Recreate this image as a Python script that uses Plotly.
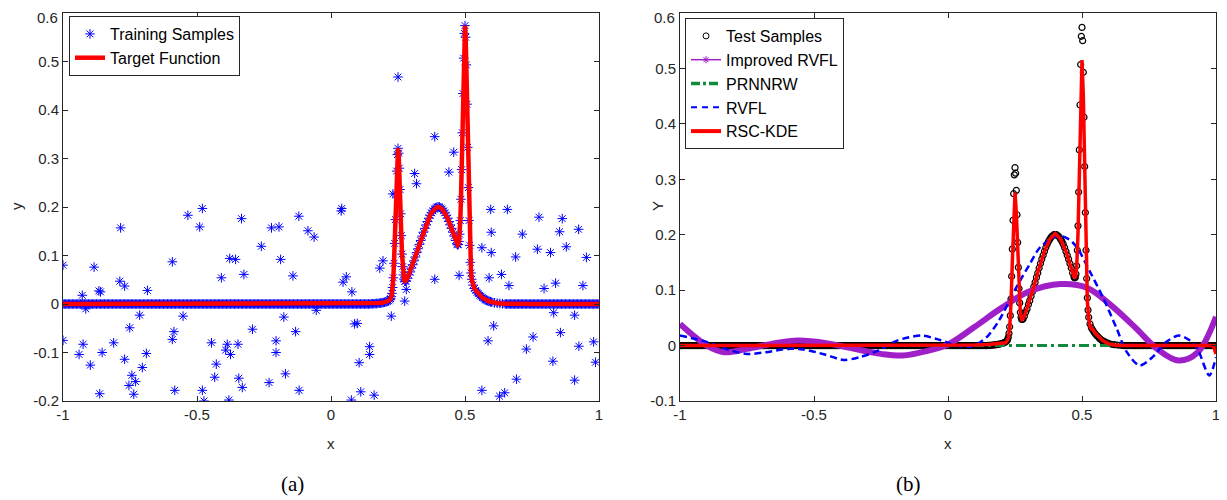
import numpy as np
import plotly.graph_objects as go

# ---------------- data ----------------
# target function, feature region (x, y); flat (y = 0) outside 0.15..0.65
feat_x = [0.15, 0.155, 0.16, 0.165, 0.17, 0.175, 0.18, 0.185, 0.19, 0.195,
          0.2, 0.205, 0.21, 0.215, 0.22, 0.2225, 0.225, 0.2275, 0.23, 0.2325,
          0.235, 0.2375, 0.24, 0.2425, 0.245, 0.2475, 0.25, 0.2525, 0.255, 0.2575,
          0.26, 0.2625, 0.265, 0.2675, 0.27, 0.2725, 0.275, 0.2775, 0.28, 0.285,
          0.29, 0.295, 0.3, 0.305, 0.31, 0.315, 0.32, 0.325, 0.33, 0.335,
          0.34, 0.345, 0.35, 0.355, 0.36, 0.365, 0.37, 0.375, 0.38, 0.385,
          0.39, 0.395, 0.4, 0.405, 0.41, 0.415, 0.42, 0.425, 0.43, 0.435,
          0.44, 0.445, 0.45, 0.455, 0.46, 0.465, 0.47, 0.4725, 0.475, 0.4775,
          0.48, 0.4825, 0.485, 0.4875, 0.49, 0.4925, 0.495, 0.4975, 0.5, 0.5025,
          0.505, 0.5075, 0.51, 0.5125, 0.515, 0.5175, 0.52, 0.5225, 0.525, 0.53,
          0.535, 0.54, 0.545, 0.55, 0.555, 0.56, 0.565, 0.57, 0.575, 0.58,
          0.585, 0.59, 0.595, 0.6, 0.61, 0.62, 0.63, 0.64, 0.65]
feat_y = [0.0004, 0.0005, 0.0006, 0.0008, 0.001, 0.0013, 0.0016, 0.002, 0.0024, 0.003,
          0.0037, 0.0045, 0.0054, 0.0066, 0.0088, 0.011, 0.015, 0.022, 0.034, 0.054,
          0.084, 0.125, 0.174, 0.226, 0.274, 0.308, 0.321, 0.311, 0.280, 0.236,
          0.186, 0.141, 0.103, 0.077, 0.060, 0.051, 0.047, 0.047, 0.048, 0.053,
          0.060, 0.066, 0.074, 0.081, 0.089, 0.097, 0.106, 0.114, 0.123, 0.131,
          0.140, 0.148, 0.156, 0.163, 0.170, 0.177, 0.183, 0.188, 0.192, 0.196,
          0.198, 0.200, 0.200, 0.200, 0.198, 0.196, 0.192, 0.188, 0.183, 0.177,
          0.170, 0.163, 0.156, 0.148, 0.140, 0.131, 0.124, 0.122, 0.123, 0.129,
          0.144, 0.172, 0.216, 0.277, 0.353, 0.434, 0.507, 0.558, 0.574, 0.550,
          0.493, 0.412, 0.323, 0.240, 0.172, 0.121, 0.086, 0.064, 0.051, 0.039,
          0.032, 0.028, 0.024, 0.021, 0.018, 0.016, 0.013, 0.011, 0.009, 0.008,
          0.0065, 0.0054, 0.0045, 0.0037, 0.0024, 0.0016, 0.001, 0.0006, 0.0004]
assert len(feat_x) == len(feat_y)

flat_left_x = np.round(np.arange(-1.0, 0.1475, 0.005), 3)
flat_right_x = np.round(np.arange(0.655, 1.0001, 0.005), 3)
target_x = list(flat_left_x) + feat_x + list(flat_right_x)
target_y = [0.0] * len(flat_left_x) + feat_y + [0.0] * len(flat_right_x)

# noisy training samples (off the curve)
noise_x = [-1.0, -0.884, -0.785, -0.928, -0.866, -0.86, -0.788, -0.77, -0.685, -0.915,
           -0.714, -0.751, -1.0, -0.925, -0.811, -0.94, -0.854, -0.689, -0.77, -0.898,
           -0.704, -0.743, -0.729, -0.754, -0.863, -0.736,
           -0.534, -0.48, -0.49, -0.334, -0.222, -0.26, -0.592, -0.378, -0.356, -0.409,
           -0.325, -0.552, -0.293, -0.586, -0.592, -0.446, -0.387, -0.347, -0.393, -0.375,
           -0.428, -0.434, -0.344, -0.331, -0.231, -0.583, -0.48, -0.474, -0.381, -0.205,
           -0.205,
           -0.194, -0.12, -0.086, -0.063, 0.04, 0.038, -0.188, -0.142, 0.057, 0.045,
           0.078, 0.194, 0.182, -0.055, -0.176, -0.132, 0.088, 0.098, 0.144, 0.144,
           0.105, -0.17, -0.119, 0.111, 0.161, 0.076,
           0.25, 0.387, 0.458, 0.312, 0.319, 0.44, 0.231, 0.596, 0.598, 0.563,
           0.598, 0.387, 0.478, 0.59, 0.281, 0.275, 0.225, 0.607, 0.586, 0.563,
           0.658, 0.776, 0.863, 0.714, 0.853, 0.924, 0.689, 0.77, 0.819, 0.878,
           0.953, 0.636, 0.664, 0.795, 0.838, 0.94, 0.831, 0.909, 0.754, 0.856,
           0.729, 0.925, 0.98, 0.828, 0.987, 0.692, 0.909, 0.629, 0.648]
noise_y = [0.08, 0.076, 0.157, 0.018, 0.027, 0.025, 0.047, 0.037, 0.028, -0.01,
           -0.023, -0.049, -0.075, -0.083, -0.08, -0.104, -0.1, -0.102, -0.114, -0.126,
           -0.131, -0.147, -0.16, -0.168, -0.185, -0.186,
           0.183, 0.197, 0.159, 0.176, 0.157, 0.119, 0.087, 0.094, 0.092, 0.054,
           0.061, -0.025, -0.052, -0.057, -0.073, -0.08, -0.083, -0.083, -0.095, -0.104,
           -0.124, -0.151, -0.153, -0.172, -0.162, -0.178, -0.178, -0.2, -0.198, -0.076,
           -0.1,
           0.159, 0.181, 0.151, 0.138, 0.197, 0.192, 0.092, 0.058, 0.056, 0.045,
           0.025, 0.089, 0.074, -0.013, -0.027, -0.057, -0.041, -0.04, -0.088, -0.104,
           -0.121, -0.144, -0.178, -0.181, -0.188, -0.198,
           0.468, 0.345, 0.313, 0.269, 0.248, 0.272, 0.227, 0.195, 0.148, 0.116,
           0.106, 0.051, 0.059, 0.054, 0.03, 0.006, -0.025, -0.045, -0.076, -0.178,
           0.195, 0.179, 0.176, 0.144, 0.149, 0.154, 0.097, 0.113, 0.106, 0.118,
           0.096, 0.061, 0.038, 0.032, 0.043, 0.038, -0.018, -0.023, -0.068, -0.059,
           -0.093, -0.087, -0.078, -0.118, -0.12, -0.155, -0.157, -0.19, -0.183]
assert len(noise_x) == len(noise_y)

# Improved RVFL (purple)
irvfl_x = [-1.0, -0.95, -0.9, -0.835, -0.75, -0.65, -0.56, -0.45, -0.35, -0.25,
           -0.17, -0.08, 0.0, 0.1, 0.2, 0.3, 0.42, 0.52, 0.6, 0.7,
           0.78, 0.86, 0.93, 1.0]
irvfl_y = [0.039, 0.018, 0.0, -0.012, -0.006, 0.004, 0.009, 0.004, -0.006, -0.015,
           -0.018, -0.010, 0.002, 0.034, 0.068, 0.097, 0.111, 0.104, 0.076, 0.032,
           -0.006, -0.027, -0.013, 0.052]

# PRNNRW (green)
prnn_x = [-1.0, 1.0]
prnn_y = [0.0, 0.0]

# RVFL (blue dashed)
rvfl_x = [-1.0, -0.91, -0.83, -0.75, -0.68, -0.6, -0.54, -0.46, -0.39, -0.33,
          -0.27, -0.19, -0.1, -0.03, 0.03, 0.08, 0.12, 0.15, 0.19, 0.255,
          0.305, 0.345, 0.41, 0.45, 0.48, 0.53, 0.58, 0.63, 0.665, 0.715,
          0.765, 0.81, 0.86, 0.9, 0.93, 0.975, 1.0]
rvfl_y = [0.018, 0.008, -0.006, -0.015, -0.012, -0.006, -0.007, -0.016, -0.026, -0.021,
          -0.011, 0.009, 0.018, 0.01, 0.0, -0.002, 0.006, 0.018, 0.045, 0.105,
          0.147, 0.178, 0.198, 0.192, 0.178, 0.133, 0.085, 0.03, -0.01, -0.036,
          -0.02, 0.005, 0.018, 0.01, -0.005, -0.054, -0.021]

# RSC-KDE (red)
rsc_x = [-1.0, -0.5, 0.0, 0.1, 0.15, 0.2, 0.21, 0.215, 0.22, 0.225,
         0.23, 0.235, 0.24, 0.245, 0.25, 0.255, 0.26, 0.265, 0.27, 0.275,
         0.28, 0.29, 0.3, 0.32, 0.34, 0.36, 0.38, 0.4, 0.42, 0.44,
         0.46, 0.47, 0.475, 0.48, 0.485, 0.49, 0.495, 0.5, 0.505, 0.51,
         0.515, 0.52, 0.525, 0.53, 0.535, 0.54, 0.55, 0.56, 0.58, 0.6,
         0.62, 0.65, 0.7, 0.99, 1.0]
rsc_y = [0.0, 0.0, 0.0, 0.001, 0.002, 0.004, 0.004, 0.005, 0.008, 0.014,
         0.03, 0.075, 0.15, 0.235, 0.276, 0.24, 0.165, 0.095, 0.058, 0.047,
         0.048, 0.06, 0.074, 0.106, 0.14, 0.17, 0.192, 0.202, 0.192, 0.17,
         0.14, 0.124, 0.122, 0.14, 0.2, 0.33, 0.46, 0.515, 0.45, 0.3,
         0.16, 0.08, 0.05, 0.034, 0.03, 0.03, 0.022, 0.017, 0.008, 0.003,
         0.001, 0.0, 0.0, 0.0, -0.015]

x_ticks = [-1, -0.5, 0, 0.5, 1]
x_ticktext = ['-1', '-0.5', '0', '0.5', '1']
ya_ticks = [-0.2, -0.1, 0, 0.1, 0.2, 0.3, 0.4, 0.5, 0.6]
ya_ticktext = ['-0.2', '-0.1', '0', '0.1', '0.2', '0.3', '0.4', '0.5', '0.6']
yb_ticks = ya_ticks[1:]
yb_ticktext = ya_ticktext[1:]

# ---------------- figure ----------------
# the page body has an 8px margin, so the figure is 8px smaller and all
# reference pixel positions are shifted by that offset
OFF = 8
W, H = 1227 - OFF, 500 - OFF


def px(x):
    return (x - OFF) / W


def py(y):
    return 1 - (y - OFF) / H


FONT = 'Liberation Sans, Arial, Helvetica, sans-serif'
AX = '#262626'
BLUE = '#0000ff'
RED = '#ff0000'
PURPLE = '#a020c8'
GREEN = '#128a3c'

fig = go.Figure()

# panel (a)
fig.add_trace(go.Scatter(x=noise_x, y=noise_y, mode='markers', showlegend=False,
                         marker=dict(symbol='asterisk-open', size=8, color=BLUE,
                                     line=dict(color=BLUE, width=1)),
                         xaxis='x', yaxis='y'))
fig.add_trace(go.Scatter(x=target_x, y=target_y, mode='markers', name='Training Samples',
                         marker=dict(symbol='asterisk-open', size=8, color=BLUE,
                                     line=dict(color=BLUE, width=1)),
                         xaxis='x', yaxis='y', legend='legend'))
fig.add_trace(go.Scatter(x=target_x, y=target_y, mode='lines', name='Target Function',
                         line=dict(color=RED, width=4.5),
                         xaxis='x', yaxis='y', legend='legend'))

# panel (b)
fig.add_trace(go.Scatter(x=target_x, y=target_y, mode='markers', showlegend=False,
                         marker=dict(symbol='circle-open', size=6, color='black',
                                     line=dict(color='black', width=1.2)),
                         xaxis='x2', yaxis='y2'))
fig.add_trace(go.Scatter(x=irvfl_x, y=irvfl_y, mode='lines', showlegend=False,
                         line=dict(color=PURPLE, width=6, shape='spline', smoothing=1.0),
                         xaxis='x2', yaxis='y2'))
fig.add_trace(go.Scatter(x=prnn_x, y=prnn_y, mode='lines', showlegend=False,
                         line=dict(color=GREEN, width=3, dash='10px,4px,3px,4px'),
                         xaxis='x2', yaxis='y2'))
fig.add_trace(go.Scatter(x=rvfl_x, y=rvfl_y, mode='lines', showlegend=False,
                         line=dict(color=BLUE, width=2.5, dash='7px,4px', shape='spline',
                                   smoothing=0.8),
                         xaxis='x2', yaxis='y2'))
fig.add_trace(go.Scatter(x=rsc_x, y=rsc_y, mode='lines', showlegend=False,
                         line=dict(color=RED, width=3.5),
                         xaxis='x2', yaxis='y2'))

# legend entries for panel (b)
leg_b = [
    dict(name='Test Samples', mode='markers',
         marker=dict(symbol='circle-open', size=6, color='black', line=dict(color='black', width=1))),
    dict(name='Improved RVFL', mode='lines+markers', line=dict(color=PURPLE, width=1.5),
         marker=dict(symbol='asterisk-open', size=6, color=PURPLE, line=dict(color=PURPLE, width=1))),
    dict(name='PRNNRW', mode='lines', line=dict(color=GREEN, width=3.5, dash='9px,3px,3px,3px')),
    dict(name='RVFL', mode='lines', line=dict(color=BLUE, width=2, dash='6px,5px')),
    dict(name='RSC-KDE', mode='lines', line=dict(color=RED, width=4)),
]
for item in leg_b:
    fig.add_trace(go.Scatter(x=[None], y=[None], xaxis='x2', yaxis='y2',
                             legend='legend2', **item))

axis_common = dict(showline=True, linecolor=AX, linewidth=1, mirror='allticks',
                   ticks='inside', ticklen=5, tickcolor=AX, showgrid=False,
                   zeroline=False, automargin=False,
                   tickfont=dict(family=FONT, size=15, color=AX))
ydom = [py(401), py(13)]

# the top tick label (0.6) sits right at the page edge, so it is written as an
# annotation anchored just inside the figure instead of as an axis tick label
fig.update_layout(
    width=W, height=H, autosize=False,
    margin=dict(l=0, r=0, t=0, b=0, pad=0),
    paper_bgcolor='white', plot_bgcolor='white',
    font=dict(family=FONT, color=AX),
    xaxis=dict(domain=[px(63), px(599)], range=[-1, 1], tickvals=x_ticks,
               ticktext=x_ticktext, anchor='y', **axis_common),
    yaxis=dict(domain=ydom, range=[-0.2, 0.6], tickvals=ya_ticks[:-1],
               ticktext=ya_ticktext[:-1], anchor='x', **axis_common),
    xaxis2=dict(domain=[px(680), px(1216)], range=[-1, 1], tickvals=x_ticks,
                ticktext=x_ticktext, anchor='y2', **axis_common),
    yaxis2=dict(domain=ydom, range=[-0.1, 0.6], tickvals=yb_ticks[:-1],
                ticktext=yb_ticktext[:-1], anchor='x2', **axis_common),
    legend=dict(x=px(69), y=py(16), xanchor='left', yanchor='top',
                bgcolor='white', bordercolor=AX, borderwidth=1,
                font=dict(family=FONT, size=16, color='black'), tracegroupgap=0),
    legend2=dict(x=px(685), y=py(18), xanchor='left', yanchor='top',
                 bgcolor='white', bordercolor=AX, borderwidth=1,
                 font=dict(family=FONT, size=16, color='black'), tracegroupgap=0),
)

for xr, lab in (('x', ya_ticktext[-1]), ('x2', yb_ticktext[-1])):
    fig.add_annotation(text=lab, x=-1, xref=xr, xshift=-4, xanchor='right',
                       y=1, yref='paper', yanchor='top', showarrow=False, borderpad=0,
                       font=dict(family=FONT, size=15, color=AX))

ann = [
    dict(text='x', x=331, y=443, size=15, angle=0, fam=FONT),
    dict(text='x', x=948, y=443, size=15, angle=0, fam=FONT),
    dict(text='y', x=16, y=206, size=15, angle=-90, fam=FONT),
    dict(text='Y', x=657, y=206, size=15, angle=-90, fam=FONT),
    dict(text='(a)', x=292, y=484, size=21, angle=0, fam='Liberation Serif, serif'),
    dict(text='(b)', x=908, y=484, size=21, angle=0, fam='Liberation Serif, serif'),
]
for a in ann:
    fig.add_annotation(text=a['text'], x=px(a['x']), y=py(a['y']), xref='paper', yref='paper',
                       showarrow=False, textangle=a['angle'], xanchor='center', yanchor='middle',
                       font=dict(family=a['fam'], size=a['size'],
                                 color=AX if a['size'] < 20 else 'black'))

fig.write_html("out.html")
